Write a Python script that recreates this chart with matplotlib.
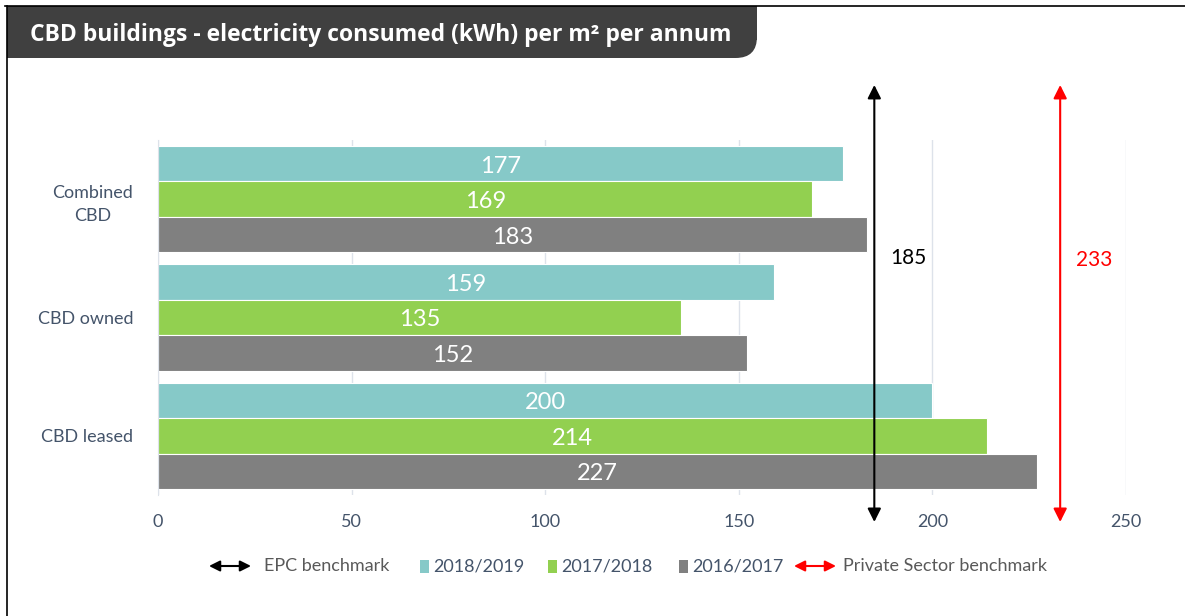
import matplotlib
matplotlib.use("Agg")
import matplotlib.pyplot as plt
from matplotlib.patches import Rectangle, FancyBboxPatch, FancyArrowPatch
from matplotlib.lines import Line2D
import matplotlib.transforms as mtransforms

categories = ["Combined\nCBD", "CBD owned", "CBD leased"]
series_names = ["2018/2019", "2017/2018", "2016/2017"]
values_2018_19 = [177, 159, 200]
values_2017_18 = [169, 135, 214]
values_2016_17 = [183, 152, 227]
epc_benchmark = 185
private_benchmark = 233
x_ticks = [0, 50, 100, 150, 200, 250]

colors = ["#86C9C8", "#92D050", "#808080"]
label_color = "#44546A"
FONT = ["Lato", "DejaVu Sans"]

W, H = 1185, 616
fig = plt.figure(figsize=(W / 100, H / 100), dpi=100)

def fx(px):
    return px / W

def fy(py):
    return 1 - py / H

# frame lines
fig.add_artist(Line2D([fx(7), fx(7)], [fy(6), fy(616)], color="black", lw=1.2))
fig.add_artist(Line2D([fx(5), fx(1185)], [fy(6), fy(6)], color="black", lw=1.2))

# title box
box_col = "#404040"
fig.add_artist(Rectangle((fx(7), fy(58)), fx(720 - 7), fy(6) - fy(58),
                         transform=fig.transFigure, color=box_col, lw=0))
fig.add_artist(Rectangle((fx(7), fy(40)), fx(757 - 7), fy(6) - fy(40),
                         transform=fig.transFigure, color=box_col, lw=0))
fig.add_artist(FancyBboxPatch((fx(690), fy(58)), fx(757 - 690), fy(20) - fy(58),
                              boxstyle="round,pad=0,rounding_size=0.018",
                              transform=fig.transFigure, color=box_col, lw=0,
                              mutation_aspect=W / H))
fig.text(fx(30), fy(35), "CBD buildings - electricity consumed (kWh) per m² per annum",
         color="white", fontsize=16.5, fontweight="bold", family=["Open Sans", "DejaVu Sans"],
         va="center", ha="left")

ax = fig.add_axes([fx(158), fy(495), fx(1126 - 158), fy(140) - fy(495)])
series = [values_2018_19, values_2017_18, values_2016_17]
bar_h = 0.3
offsets = [-bar_h, 0, bar_h]
label_shift = mtransforms.offset_copy(ax.transData, fig=fig, x=0, y=-2.5, units="dots")
for s, (vals, col, off) in enumerate(zip(series, colors, offsets)):
    ys = [i + off for i in range(len(categories))]
    ax.barh(ys, vals, height=bar_h, color=col, edgecolor="white", lw=0.8, zorder=2)
    for y, v in zip(ys, vals):
        ax.text(v / 2, y, str(v), color="white", fontsize=17, family=FONT,
                ha="center", va="center", zorder=3, transform=label_shift)

ax.set_xlim(0, 250)
ax.set_ylim(2.5, -0.5)
ax.set_xticks(x_ticks)
ax.set_xticklabels([str(t) for t in x_ticks], fontsize=13, color=label_color, family=FONT)
ax.set_yticks(range(len(categories)))
ax.set_yticklabels(categories, fontsize=13, color=label_color, family=FONT,
                   multialignment="center", linespacing=1.6)
ax.tick_params(axis="both", length=0)
ax.tick_params(axis="x", pad=14)
ax.tick_params(axis="y", pad=18)
ax.grid(axis="x", color="#DDE2EA", lw=1, zorder=0)
for side in ["top", "right", "bottom"]:
    ax.spines[side].set_visible(False)
ax.spines["left"].set_color("#DDE2EA")

# benchmark arrows
for val, col in [(epc_benchmark, "black"), (private_benchmark, "red")]:
    ax.annotate("", xy=(val, 1.155), xytext=(val, -0.076),
                xycoords=("data", "axes fraction"), textcoords=("data", "axes fraction"),
                arrowprops=dict(arrowstyle="<|-|>", color=col, lw=1.5,
                                mutation_scale=20, shrinkA=0, shrinkB=0),
                annotation_clip=False, zorder=4)
ax.text(epc_benchmark + 4, 0.5, str(epc_benchmark), color="black", fontsize=15,
        family=FONT, ha="left", va="center")
ax.text(private_benchmark + 4, 0.51, str(private_benchmark), color="red", fontsize=15,
        family=FONT, ha="left", va="center")

# legend
ly = fy(566)
def leg_arrow(x0, x1, col):
    fig.add_artist(FancyArrowPatch((fx(x0), ly), (fx(x1), ly), transform=fig.transFigure,
                                   arrowstyle="<|-|>", color=col, lw=1.5,
                                   mutation_scale=16, shrinkA=0, shrinkB=0))

leg_arrow(209, 251, "black")
fig.text(fx(264), ly, "EPC benchmark", fontsize=13, color="#595959", family=FONT,
         va="center", ha="left")
for name, col, x in zip(series_names, colors, [420, 548, 679]):
    fig.add_artist(Rectangle((fx(x), ly - 6.5 / H), fx(9), 13 / H,
                             transform=fig.transFigure, color=col, lw=0))
    fig.text(fx(x + 13), ly, name, fontsize=13, color=label_color, family=FONT,
             va="center", ha="left")
leg_arrow(794, 836, "red")
fig.text(fx(843), ly, "Private Sector benchmark", fontsize=13, color="#595959",
         family=FONT, va="center", ha="left")

fig.savefig("out.png", dpi=100)
